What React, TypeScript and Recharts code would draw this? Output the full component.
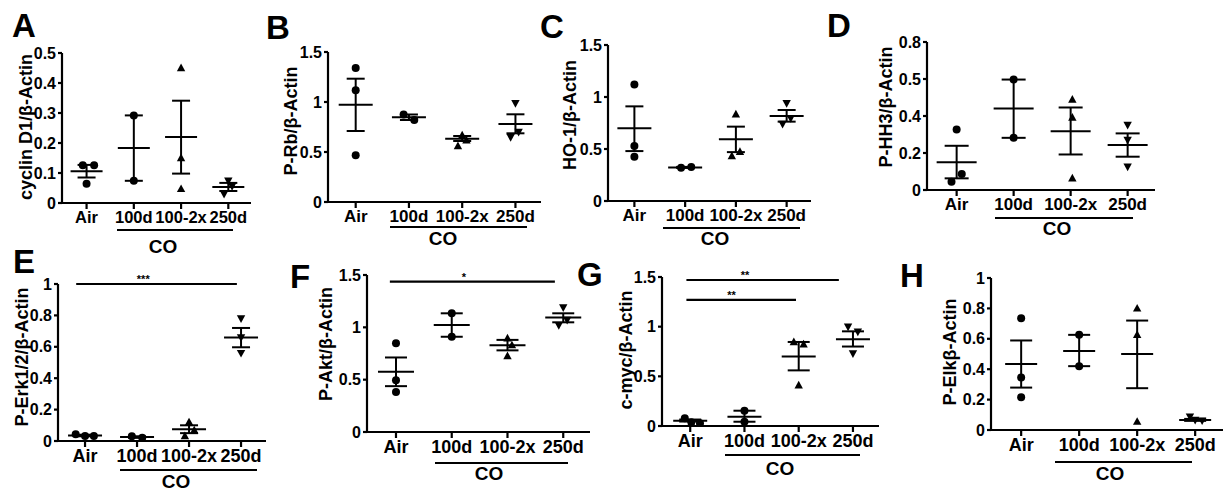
import React from "react";
import { ScatterChart, Scatter, XAxis, YAxis, ErrorBar, ReferenceLine, ReferenceDot } from "recharts";

const FONT = "'Liberation Sans', Arial, Helvetica, sans-serif";

const groups = ["Air", "100d", "100-2x", "250d"];
const markers = ["circle", "circle", "up", "down"];

// A - cyclin D1
const cyclinPts = [[0.126, 0.126, 0.064], [0.292, 0.074], [0.45, 0.15, 0.047], [0.074, 0.056, 0.03]];
const cyclinJit = [[-0.08, 0.16, 0], [0, 0], [0, 0, 0], [0, 0.08, -0.09]];
const cyclinMean = [0.106, 0.183, 0.22, 0.053];
const cyclinSem = [[0.085, 0.127], [0.074, 0.292], [0.098, 0.341], [0.04, 0.067]];
const cyclinTicks = ["0", "0.1", "0.2", "0.3", "0.4", "0.5"];

// B - P-Rb
const rbPts = [[1.34, 1.117, 0.467], [0.875, 0.82], [0.667, 0.617, 0.56], [0.987, 0.7, 0.647]];
const rbJit = [[0, 0, 0], [-0.1, 0.1], [0, 0.08, -0.08], [0, 0.06, -0.09]];
const rbMean = [0.973, 0.848, 0.633, 0.78];
const rbSem = [[0.71, 1.233], [0.82, 0.875], [0.61, 0.66], [0.687, 0.877]];
const halfTicks = ["0", "0.5", "1", "1.5"];

// C - HO-1
const hoPts = [[1.12, 0.53, 0.426], [0.32, 0.327], [0.833, 0.474, 0.433], [0.94, 0.795, 0.74]];
const hoJit = [[0, 0, 0], [-0.08, 0.12], [0, 0.08, -0.08], [0, 0.08, -0.08]];
const hoMean = [0.7, 0.323, 0.593, 0.817];
const hoSem = [[0.48, 0.91], [0.318, 0.328], [0.47, 0.715], [0.763, 0.875]];

// D - P-HH3
const hh3Pts = [[0.327, 0.086, 0.045], [0.597, 0.282], [0.489, 0.392, 0.063], [0.351, 0.27, 0.126]];
const hh3Jit = [[0, 0.09, -0.09], [0, 0], [0.03, 0.03, 0.03], [0, 0, 0]];
const hh3Mean = [0.15, 0.44, 0.318, 0.243];
const hh3Sem = [[0.063, 0.239], [0.282, 0.597], [0.192, 0.446], [0.18, 0.306]];
const hh3Ticks = ["0", "0.2", "0.4", "0.5", "0.8"];

// E - P-Erk1/2
const erkPts = [[0.043, 0.032, 0.032], [0.03, 0.02], [0.12, 0.068, 0.032], [0.78, 0.66, 0.56]];
const erkJit = [[-0.18, 0, 0.17], [-0.1, 0.1], [0, 0.1, -0.08], [0, 0, 0]];
const erkMean = [0.035, 0.025, 0.075, 0.66];
const erkSem = [[0.03, 0.04], [0.02, 0.03], [0.05, 0.1], [0.597, 0.72]];
const tenthTicks = ["0", "0.2", "0.4", "0.6", "0.8", "1"];
const erkSig = [{ from: -0.17, to: 2.92, y: 1, stars: "***", at: 1.12 }];

// F - P-Akt
const aktPts = [[0.847, 0.495, 0.383], [1.134, 0.91], [0.895, 0.83, 0.725], [1.19, 1.07, 1.02]];
const aktJit = [[0, 0, 0], [0, 0], [0, 0.08, 0], [0, 0.07, -0.08]];
const aktMean = [0.575, 1.022, 0.83, 1.093];
const aktSem = [[0.438, 0.712], [0.91, 1.134], [0.78, 0.88], [1.048, 1.134]];
const aktSig = [{ from: -0.11, to: 2.85, y: 1.437, stars: "*", at: 1.22 }];

// G - c-myc
const mycPts = [[0.077, 0.037, 0.027], [0.154, 0.043], [0.846, 0.823, 0.41], [1.0, 0.95, 0.73]];
const mycJit = [[-0.1, 0.02, 0.18], [0, 0], [-0.09, 0.09, 0], [-0.09, 0.09, 0]];
const mycMean = [0.054, 0.094, 0.7, 0.873];
const mycSem = [[0.045, 0.065], [0.043, 0.154], [0.56, 0.846], [0.8, 0.953]];
const mycSig = [
  { from: -0.07, to: 2.74, y: 1.47, stars: "**", at: 1.01 },
  { from: -0.07, to: 1.95, y: 1.27, stars: "**", at: 0.76 },
];

// H - P-Elk
const elkPts = [[0.736, 0.345, 0.215], [0.626, 0.42], [0.8, 0.626, 0.055], [0.088, 0.066, 0.062]];
const elkJit = [[0, 0, 0], [0, 0], [0, 0, 0], [-0.09, 0, 0.12]];
const elkMean = [0.435, 0.52, 0.5, 0.066];
const elkSem = [[0.279, 0.589], [0.42, 0.626], [0.275, 0.72], [0.06, 0.073]];

const panels = [
  { letter: "A", lx: 12, ly: 37, label: "cyclin D1/β-Actin", tx: 26, ty: 127, left: 62.4, top: 53, width: 189, height: 150, yMax: 0.5, ticks: cyclinTicks, pts: cyclinPts, jit: cyclinJit, mean: cyclinMean, sem: cyclinSem, sig: [], cat: 16.5, cap: 9, half: 16, l1: 117, l2: 233, lineY: 230, coX: 163, coY: 253 },
  { letter: "B", lx: 266, ly: 39, label: "P-Rb/β-Actin", tx: 291, ty: 121, left: 328.3, top: 52, width: 213, height: 150, yMax: 1.5, ticks: halfTicks, pts: rbPts, jit: rbJit, mean: rbMean, sem: rbSem, sig: [], cat: 17, cap: 9, half: 17, l1: 390, l2: 527, lineY: 227, coX: 443, coY: 245 },
  { letter: "C", lx: 540, ly: 38, label: "HO-1/β-Actin", tx: 570, ty: 115, left: 607.6, top: 45, width: 203, height: 156, yMax: 1.5, ticks: halfTicks, pts: hoPts, jit: hoJit, mean: hoMean, sem: hoSem, sig: [], cat: 17, cap: 9, half: 17, l1: 663, l2: 800, lineY: 228, coX: 715, coY: 245 },
  { letter: "D", lx: 827, ly: 37, label: "P-HH3/β-Actin", tx: 886, ty: 107, left: 927.4, top: 42, width: 228, height: 148, yMax: 0.8, ticks: hh3Ticks, pts: hh3Pts, jit: hh3Jit, mean: hh3Mean, sem: hh3Sem, sig: [], cat: 17, cap: 12, half: 20, l1: 995, l2: 1133, lineY: 218, coX: 1057, coY: 235 },
  { letter: "E", lx: 13, ly: 273, label: "P-Erk1/2/β-Actin", tx: 22, ty: 357, left: 58, top: 284, width: 208, height: 157, yMax: 1, ticks: tenthTicks, pts: erkPts, jit: erkJit, mean: erkMean, sem: erkSem, sig: erkSig, cat: 18, cap: 9, half: 17, l1: 120, l2: 257, lineY: 470, coX: 176, coY: 488 },
  { letter: "F", lx: 290, ly: 288, label: "P-Akt/β-Actin", tx: 326, ty: 344, left: 367, top: 275, width: 223, height: 157, yMax: 1.5, ticks: halfTicks, pts: aktPts, jit: aktJit, mean: aktMean, sem: aktSem, sig: aktSig, cat: 18, cap: 11, half: 18, l1: 435, l2: 568, lineY: 463, coX: 489, coY: 480 },
  { letter: "G", lx: 577, ly: 286, label: "c-myc/β-Actin", tx: 626, ty: 350, left: 661.5, top: 277, width: 217, height: 149, yMax: 1.5, ticks: halfTicks, pts: mycPts, jit: mycJit, mean: mycMean, sem: mycSem, sig: mycSig, cat: 18, cap: 11, half: 17, l1: 725, l2: 860, lineY: 455, coX: 780, coY: 475 },
  { letter: "H", lx: 900, ly: 287, label: "P-Elkβ-Actin", tx: 950, ty: 352, left: 991, top: 278, width: 232, height: 152, yMax: 1, ticks: tenthTicks, pts: elkPts, jit: elkJit, mean: elkMean, sem: elkSem, sig: [], cat: 18, cap: 11, half: 16, l1: 1055, l2: 1192, lineY: 462, coX: 1110, coY: 480 },
];

const YW = 45;
const MT = 14;
const MR = 8;
const XH = 34;
const axisStyle = { stroke: "#000", strokeWidth: 2.2 };

const Marker = (props: any) => {
  const { cx, cy, payload } = props;
  const m = markers[payload.g];
  if (m === "circle") return <circle cx={cx} cy={cy} r={4} fill="#000" />;
  if (m === "up") return <path d={`M${cx},${cy - 4.5}L${cx + 4.2},${cy + 3.2}L${cx - 4.2},${cy + 3.2}Z`} fill="#000" />;
  return <path d={`M${cx},${cy + 4.5}L${cx + 4.2},${cy - 3.2}L${cx - 4.2},${cy - 3.2}Z`} fill="#000" />;
};

const meanShape = (half: number) => (props: any) => (
  <line x1={props.cx - half} x2={props.cx + half} y1={props.cy} y2={props.cy} stroke="#000" strokeWidth={2} />
);

function Panel({ p }: { p: any }) {
  const pointData = p.pts.flatMap((vals: number[], g: number) =>
    vals.map((v, i) => ({ x: g + p.jit[g][i], y: v, g }))
  );
  const meanData = p.mean.map((m: number, g: number) => ({
    x: g,
    y: m,
    err: [m - p.sem[g][0], p.sem[g][1] - m],
  }));
  const tickVals = p.ticks.map((_: string, i: number) => (p.yMax * i) / (p.ticks.length - 1));

  return (
    <div style={{ position: "absolute", left: p.left - YW, top: p.top - MT }}>
      <ScatterChart
        width={YW + p.width + MR}
        height={MT + p.height + XH}
        margin={{ top: MT, right: MR, left: 0, bottom: 0 }}
      >
        <XAxis
          type="number"
          dataKey="x"
          domain={[-0.52, 3.48]}
          ticks={[0, 1, 2, 3]}
          interval={0}
          allowDataOverflow
          tickFormatter={(v: number) => groups[v]}
          height={XH}
          axisLine={axisStyle}
          tickLine={axisStyle}
          tickSize={6}
          tick={{ fill: "#000", fontSize: p.cat, fontWeight: 700, fontFamily: FONT }}
        />
        <YAxis
          type="number"
          dataKey="y"
          domain={[0, p.yMax]}
          ticks={tickVals}
          interval={0}
          allowDataOverflow
          tickFormatter={(v: number) => p.ticks[tickVals.indexOf(v)] ?? String(v)}
          width={YW}
          axisLine={axisStyle}
          tickLine={axisStyle}
          tickSize={4}
          tickMargin={2}
          tick={{ fill: "#000", fontSize: 16, fontWeight: 700, fontFamily: FONT }}
        />
        {p.sig.map((s: any, i: number) => (
          <ReferenceLine
            key={`sig-${i}`}
            segment={[{ x: s.from, y: s.y }, { x: s.to, y: s.y }]}
            stroke="#000"
            strokeWidth={2.2}
            ifOverflow="visible"
          />
        ))}
        {p.sig.map((s: any, i: number) => (
          <ReferenceDot
            key={`star-${i}`}
            x={s.at}
            y={s.y}
            r={0}
            fill="none"
            stroke="none"
            ifOverflow="visible"
            label={{ value: s.stars, position: "top", offset: 1, fill: "#000", fontSize: 11, fontWeight: 700, fontFamily: FONT }}
          />
        ))}
        <Scatter data={pointData} shape={Marker} isAnimationActive={false} />
        <Scatter data={meanData} shape={meanShape(p.half)} isAnimationActive={false}>
          <ErrorBar dataKey="err" direction="y" width={p.cap} stroke="#000" strokeWidth={2} isAnimationActive={false} />
        </Scatter>
      </ScatterChart>
    </div>
  );
}

export default function App() {
  return (
    <div
      style={{
        position: "absolute",
        left: 0,
        top: 0,
        width: 1231,
        height: 492,
        background: "#fff",
        overflow: "hidden",
        fontFamily: FONT,
      }}
    >
      {panels.map((p) => (
        <Panel key={p.letter} p={p} />
      ))}
      <svg width={1231} height={492} style={{ position: "absolute", left: 0, top: 0, pointerEvents: "none" }}>
        {panels.map((p) => (
          <g key={`ann-${p.letter}`} fill="#000" fontFamily={FONT} fontWeight={700}>
            <text x={p.lx} y={p.ly} fontSize={33}>
              {p.letter}
            </text>
            <text
              x={p.tx}
              y={p.ty}
              fontSize={18}
              textAnchor="middle"
              dominantBaseline="central"
              transform={`rotate(-90 ${p.tx} ${p.ty})`}
            >
              {p.label}
            </text>
            <line x1={p.l1} x2={p.l2} y1={p.lineY} y2={p.lineY} stroke="#000" strokeWidth={1.8} />
            <text x={p.coX} y={p.coY} fontSize={19} textAnchor="middle">
              CO
            </text>
          </g>
        ))}
      </svg>
    </div>
  );
}
